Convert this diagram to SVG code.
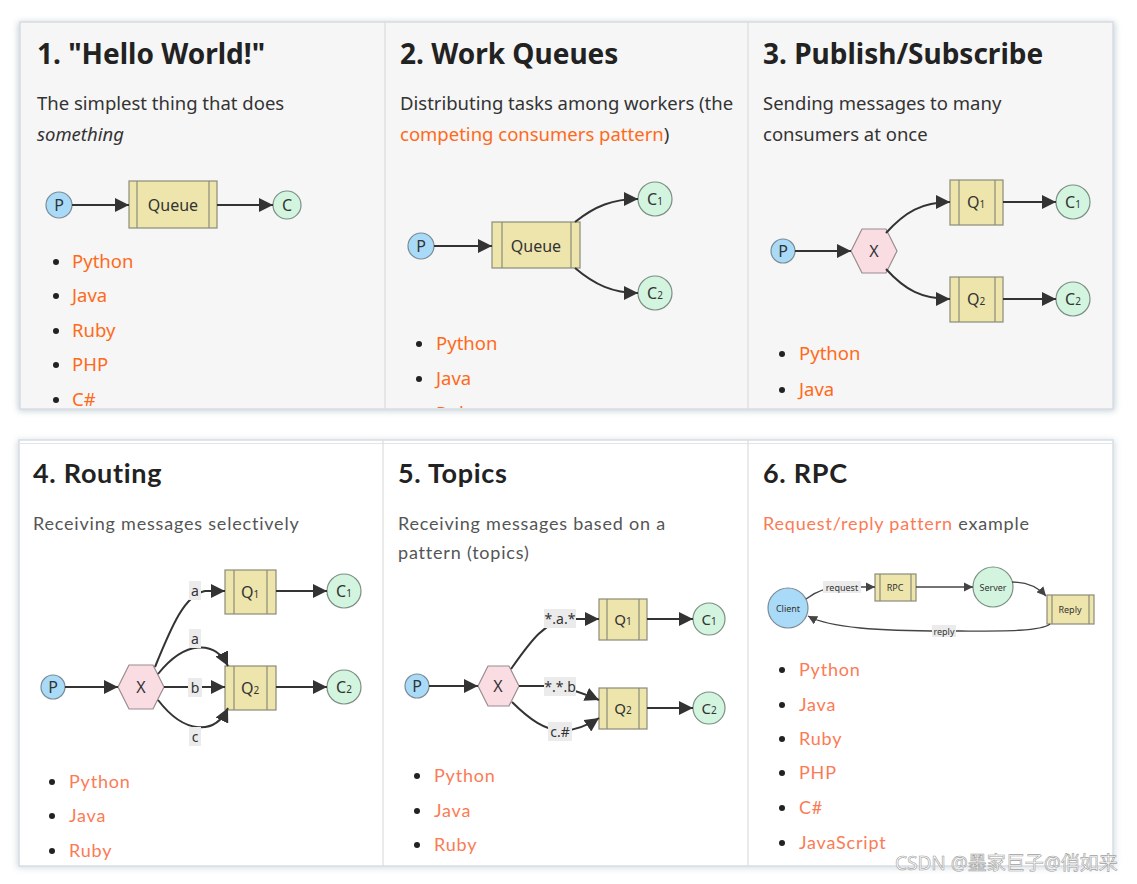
<svg xmlns="http://www.w3.org/2000/svg" width="1137" height="884" viewBox="0 0 1137 884">
<style>
.bg{fill:#ffffff}
.top{fill:#f6f6f6}
.frame{fill:none;stroke:#d8dde2;stroke-width:1.5}
.div{stroke:#dcdcdc;stroke-width:1.2}
.h1{font-family:"Noto Sans","Open Sans",sans-serif;font-weight:bold;font-size:28px;fill:#222}
.p1{font-family:"Noto Sans","Open Sans",sans-serif;font-size:18.5px;fill:#333}
.lk1{fill:#ff6a1a}
.h2{font-family:"Lato","Noto Sans",sans-serif;font-weight:bold;font-size:27px;fill:#222;letter-spacing:0.7px}
.p2{font-family:"Lato","Noto Sans",sans-serif;font-size:18px;fill:#555;letter-spacing:0.8px}
.lk2{fill:#fb7b55}
.bul{fill:#222}
.q{fill:#ede5ab;stroke:#8b8b7a;stroke-width:1.2}
.ql{stroke:#8b8b7a;stroke-width:1.2}
.cp{fill:#a9dbf8;stroke:#7b8a96;stroke-width:1.2}
.cc{fill:#d3f5e0;stroke:#7b8f83;stroke-width:1.2}
.hx{fill:#fadde3;stroke:#9a8c8f;stroke-width:1.2}
.nt{font-family:"Noto Sans","Open Sans",sans-serif;font-size:16px;fill:#333;text-anchor:middle;dominant-baseline:central}
.ntb{font-family:"Noto Sans","Open Sans",sans-serif;font-size:15px;fill:#333;text-anchor:middle;dominant-baseline:central}
.nts{font-family:"Noto Sans","Open Sans",sans-serif;font-size:9px;fill:#333;text-anchor:middle;dominant-baseline:central}
.e{fill:none;stroke:#333;stroke-width:2;marker-end:url(#ah)}
.e2{fill:none;stroke:#444;stroke-width:1.3;marker-end:url(#ahs)}
.lb{fill:#ebebeb}
.lt{font-family:"Noto Sans","Open Sans",sans-serif;font-size:14px;fill:#333;text-anchor:middle;dominant-baseline:central}
.lts{font-family:"Noto Sans","Open Sans",sans-serif;font-size:9px;fill:#333;text-anchor:middle;dominant-baseline:central}
.wm{font-family:"Noto Sans","Noto Sans CJK SC",sans-serif;font-size:19px;fill:#ffffff;stroke:#a0a0a0;stroke-width:0.6}
</style>
<defs>
<marker id="ah" viewBox="0 0 10 10" refX="10" refY="5" markerWidth="7" markerHeight="7" markerUnits="strokeWidth" orient="auto"><path d="M0,0 L10,5 L0,10 z" fill="#333"/></marker>
<marker id="ahs" viewBox="0 0 10 10" refX="10" refY="5" markerWidth="7" markerHeight="7" markerUnits="strokeWidth" orient="auto"><path d="M0,0 L10,5 L0,10 z" fill="#444"/></marker>
<filter id="sh" x="-5%" y="-5%" width="110%" height="115%"><feGaussianBlur stdDeviation="3"/></filter>
<clipPath id="topclip"><rect x="20" y="22" width="1093" height="386"/></clipPath>
</defs>
<rect class="bg" x="0" y="0" width="1137" height="884"/>
<!-- frames / shadows -->
<rect x="18" y="22" width="1097" height="389" fill="#9fb2bd" opacity="0.6" filter="url(#sh)"/>
<rect class="top" x="20" y="22" width="1093" height="387"/>
<rect class="frame" x="20" y="22" width="1093" height="387"/>
<line class="div" x1="385" y1="22" x2="385" y2="409"/>
<line class="div" x1="748" y1="22" x2="748" y2="409"/>
<rect x="17" y="440" width="1098" height="428" fill="#b9c6ce" opacity="0.6" filter="url(#sh)"/>
<rect x="19" y="440" width="1094" height="426" fill="#ffffff"/>
<rect class="frame" x="19" y="440" width="1094" height="426"/>
<line x1="19" y1="443.5" x2="1113" y2="443.5" stroke="#e2e6ea" stroke-width="1.2"/>
<line class="div" x1="383" y1="440" x2="383" y2="866"/>
<line class="div" x1="748" y1="440" x2="748" y2="866"/>

<g clip-path="url(#topclip)">
<!-- Panel 1 -->
<g id="panel1">
<text class="h1" x="37" y="64">1. "Hello World!"</text>
<text class="p1" x="37" y="110">The simplest thing that does</text>
<text class="p1" x="37" y="141" font-style="italic">something</text>
<g class="p1"><circle class="bul" cx="56" cy="262" r="3"/><text x="72" y="268" class="lk1">Python</text>
<circle class="bul" cx="56" cy="296" r="3"/><text x="72" y="302" class="lk1">Java</text>
<circle class="bul" cx="56" cy="331" r="3"/><text x="72" y="337" class="lk1">Ruby</text>
<circle class="bul" cx="56" cy="365" r="3"/><text x="72" y="371" class="lk1">PHP</text>
<circle class="bul" cx="56" cy="400" r="3"/><text x="72" y="406" class="lk1">C#</text></g>
</g>
<!-- Panel 2 -->
<g id="panel2">
<text class="h1" x="400" y="64">2. Work Queues</text>
<text class="p1" x="400" y="110">Distributing tasks among workers (the</text>
<text class="p1" x="400" y="141"><tspan class="lk1">competing consumers pattern</tspan>)</text>
<g class="p1"><circle class="bul" cx="419" cy="344" r="3"/><text x="436" y="350" class="lk1">Python</text>
<circle class="bul" cx="419" cy="379" r="3"/><text x="436" y="385" class="lk1">Java</text>
<circle class="bul" cx="419" cy="414" r="3"/><text x="436" y="420" class="lk1">Ruby</text></g>
</g>
<!-- Panel 3 -->
<g id="panel3">
<text class="h1" x="763" y="64">3. Publish/Subscribe</text>
<text class="p1" x="763" y="110">Sending messages to many</text>
<text class="p1" x="763" y="141">consumers at once</text>
<g class="p1"><circle class="bul" cx="782" cy="354" r="3"/><text x="799" y="360" class="lk1">Python</text>
<circle class="bul" cx="782" cy="390" r="3"/><text x="799" y="396" class="lk1">Java</text></g>
</g>
</g>

<g id="p1-P"><circle class="cp" cx="59" cy="205" r="13"/><text class="nt" x="59" y="205">P</text></g>
<g id="p1-Queue"><rect class="q" x="129" y="181" width="88" height="47"/><line class="ql" x1="137" y1="181" x2="137" y2="228"/><line class="ql" x1="209" y1="181" x2="209" y2="228"/><text class="nt" x="173" y="205">Queue</text></g>
<g id="p1-C"><circle class="cc" cx="287" cy="205" r="14"/><text class="nt" x="287" y="205">C</text></g>

<g id="p2-P"><circle class="cp" cx="421" cy="246" r="13"/><text class="nt" x="421" y="246">P</text></g>
<g id="p2-Queue"><rect class="q" x="492" y="222" width="88" height="46"/><line class="ql" x1="502" y1="222" x2="502" y2="268"/><line class="ql" x1="571" y1="222" x2="571" y2="268"/><text class="nt" x="536" y="246">Queue</text></g>
<g id="p2-C1"><circle class="cc" cx="655" cy="199" r="17"/><text class="nt" x="655" y="199">C<tspan font-size="10" dy="2">1</tspan></text></g>
<g id="p2-C2"><circle class="cc" cx="655" cy="293" r="17"/><text class="nt" x="655" y="293">C<tspan font-size="10" dy="2">2</tspan></text></g>

<g id="p3-P"><circle class="cp" cx="783" cy="251" r="12"/><text class="nt" x="783" y="251">P</text></g>
<g id="p3-X"><polygon class="hx" points="851,251 862,229 886,229 897,251 886,273 862,273"/><text class="nt" x="874" y="251">X</text></g>
<g id="p3-Q1"><rect class="q" x="950" y="180" width="53" height="45"/><line class="ql" x1="959" y1="180" x2="959" y2="225"/><line class="ql" x1="995" y1="180" x2="995" y2="225"/><text class="nt" x="976" y="202">Q<tspan font-size="10" dy="2">1</tspan></text></g>
<g id="p3-Q2"><rect class="q" x="950" y="277" width="53" height="45"/><line class="ql" x1="959" y1="277" x2="959" y2="322"/><line class="ql" x1="995" y1="277" x2="995" y2="322"/><text class="nt" x="976" y="299">Q<tspan font-size="10" dy="2">2</tspan></text></g>
<g id="p3-C1"><circle class="cc" cx="1073" cy="202" r="17"/><text class="nt" x="1073" y="202">C<tspan font-size="10" dy="2">1</tspan></text></g>
<g id="p3-C2"><circle class="cc" cx="1073" cy="299" r="17"/><text class="nt" x="1073" y="299">C<tspan font-size="10" dy="2">2</tspan></text></g>

<!-- Panel 4 -->
<g id="panel4">
<text class="h2" x="33" y="483">4. Routing</text>
<text class="p2" x="33" y="530">Receiving messages selectively</text>
<g class="p2"><circle class="bul" cx="52" cy="782" r="3"/><text x="69" y="788" class="lk2">Python</text>
<circle class="bul" cx="52" cy="816" r="3"/><text x="69" y="822" class="lk2">Java</text>
<circle class="bul" cx="52" cy="851" r="3"/><text x="69" y="857" class="lk2">Ruby</text></g>
</g>
<g id="p4-P"><circle class="cp" cx="53" cy="687" r="12"/><text class="nt" x="53" y="687">P</text></g>
<g id="p4-X"><polygon class="hx" points="118,687 129,665 153,665 164,687 153,709 129,709"/><text class="nt" x="141" y="687">X</text></g>
<g id="p4-Q1"><rect class="q" x="225" y="570" width="51" height="44"/><line class="ql" x1="234" y1="570" x2="234" y2="614"/><line class="ql" x1="267" y1="570" x2="267" y2="614"/><text class="nt" x="250" y="592">Q<tspan font-size="10" dy="2">1</tspan></text></g>
<g id="p4-Q2"><rect class="q" x="225" y="666" width="51" height="44"/><line class="ql" x1="234" y1="666" x2="234" y2="710"/><line class="ql" x1="267" y1="666" x2="267" y2="710"/><text class="nt" x="250" y="688">Q<tspan font-size="10" dy="2">2</tspan></text></g>
<g id="p4-C1"><circle class="cc" cx="344" cy="591" r="17"/><text class="nt" x="344" y="591">C<tspan font-size="10" dy="2">1</tspan></text></g>
<g id="p4-C2"><circle class="cc" cx="344" cy="687" r="17"/><text class="nt" x="344" y="687">C<tspan font-size="10" dy="2">2</tspan></text></g>

<!-- Panel 5 -->
<g id="panel5">
<text class="h2" x="398" y="483">5. Topics</text>
<text class="p2" x="398" y="530">Receiving messages based on a</text>
<text class="p2" x="398" y="559">pattern (topics)</text>
<g class="p2"><circle class="bul" cx="417" cy="776" r="3"/><text x="434" y="782" class="lk2">Python</text>
<circle class="bul" cx="417" cy="811" r="3"/><text x="434" y="817" class="lk2">Java</text>
<circle class="bul" cx="417" cy="845" r="3"/><text x="434" y="851" class="lk2">Ruby</text></g>
</g>
<g id="p5-P"><circle class="cp" cx="417" cy="686" r="12"/><text class="nt" x="417" y="686">P</text></g>
<g id="p5-X"><polygon class="hx" points="478,686 488,666 509,666 519,686 509,706 488,706"/><text class="nt" x="498" y="686">X</text></g>
<g id="p5-Q1"><rect class="q" x="599" y="599" width="48" height="41"/><line class="ql" x1="607" y1="599" x2="607" y2="640"/><line class="ql" x1="639" y1="599" x2="639" y2="640"/><text class="ntb" x="623" y="619">Q<tspan font-size="10" dy="2">1</tspan></text></g>
<g id="p5-Q2"><rect class="q" x="599" y="688" width="48" height="41"/><line class="ql" x1="607" y1="688" x2="607" y2="729"/><line class="ql" x1="639" y1="688" x2="639" y2="729"/><text class="ntb" x="623" y="708">Q<tspan font-size="10" dy="2">2</tspan></text></g>
<g id="p5-C1"><circle class="cc" cx="709" cy="619" r="16"/><text class="ntb" x="709" y="619">C<tspan font-size="10" dy="2">1</tspan></text></g>
<g id="p5-C2"><circle class="cc" cx="709" cy="708" r="16"/><text class="ntb" x="709" y="708">C<tspan font-size="10" dy="2">2</tspan></text></g>

<!-- Panel 6 -->
<g id="panel6">
<text class="h2" x="763" y="483">6. RPC</text>
<text class="p2" x="763" y="530"><tspan class="lk2">Request/reply pattern</tspan> example</text>
<g class="p2"><circle class="bul" cx="782" cy="670" r="3"/><text x="799" y="676" class="lk2">Python</text>
<circle class="bul" cx="782" cy="705" r="3"/><text x="799" y="711" class="lk2">Java</text>
<circle class="bul" cx="782" cy="739" r="3"/><text x="799" y="745" class="lk2">Ruby</text>
<circle class="bul" cx="782" cy="773" r="3"/><text x="799" y="779" class="lk2">PHP</text>
<circle class="bul" cx="782" cy="808" r="3"/><text x="799" y="814" class="lk2">C#</text>
<circle class="bul" cx="782" cy="843" r="3"/><text x="799" y="849" class="lk2">JavaScript</text></g>
</g>
<g id="p6-Client"><circle class="cp" cx="788" cy="608" r="20"/><text class="nts" x="788" y="608">Client</text></g>
<g id="p6-RPC"><rect class="q" x="875" y="574" width="41" height="27"/><line class="ql" x1="880" y1="574" x2="880" y2="601"/><line class="ql" x1="911" y1="574" x2="911" y2="601"/><text class="nts" x="895" y="587">RPC</text></g>
<g id="p6-Server"><circle class="cc" cx="993" cy="587" r="20"/><text class="nts" x="993" y="587">Server</text></g>
<g id="p6-Reply"><rect class="q" x="1047" y="595" width="47" height="29"/><line class="ql" x1="1052" y1="595" x2="1052" y2="624"/><line class="ql" x1="1089" y1="595" x2="1089" y2="624"/><text class="nts" x="1070" y="609">Reply</text></g>

<!-- connectors -->
<g id="connectors">
<path class="e" d="M72,205 L129,205"/>
<path class="e" d="M217,205 L273,205"/>
<path class="e" d="M434,246 L492,246"/>
<path class="e" d="M575,222 C595,206 613,199 638,199"/>
<path class="e" d="M575,268 C595,285 613,293 638,293"/>
<path class="e" d="M795,251 L851,251"/>
<path class="e" d="M886,233 C905,212 922,202 950,202"/>
<path class="e" d="M886,269 C905,290 922,299 950,299"/>
<path class="e" d="M1003,202 L1056,202"/>
<path class="e" d="M1003,299 L1056,299"/>
<path class="e" d="M65,687 L118,687"/>
<path class="e" d="M155,667 C172,625 185,595 205,591 L225,591"/>
<path class="e" d="M158,674 C185,640 215,640 228,666"/>
<path class="e" d="M164,687 L225,687"/>
<path class="e" d="M158,700 C185,735 215,735 228,708"/>
<path class="e" d="M276,591 L327,591"/>
<path class="e" d="M276,687 L327,687"/>
<g class="lb"><rect x="189" y="581" width="12" height="19"/><rect x="189" y="629" width="12" height="19"/><rect x="188" y="678" width="14" height="19"/><rect x="189" y="727" width="12" height="19"/></g>
<g class="lt"><text x="195" y="590">a</text><text x="195" y="638">a</text><text x="195" y="687">b</text><text x="195" y="736">c</text></g>
<path class="e" d="M429,686 L478,686"/>
<path class="e" d="M511,669 C530,642 545,620 570,619 L599,619"/>
<path class="e" d="M519,686 L555,686 C575,690 590,696 599,700"/>
<path class="e" d="M512,702 C530,720 545,730 562,731 C578,730 590,724 599,718"/>
<path class="e" d="M647,619 L693,619"/>
<path class="e" d="M647,708 L693,708"/>
<g class="lb"><rect x="544" y="609" width="32" height="19"/><rect x="544" y="677" width="32" height="19"/><rect x="548" y="722" width="24" height="19"/></g>
<g class="lt"><text x="560" y="618">*.a.*</text><text x="560" y="686">*.*.b</text><text x="560" y="731">c.#</text></g>
<path class="e2" d="M806,599 C815,592 825,587 842,587 L875,587"/>
<path class="e2" d="M916,587 L973,587"/>
<path class="e2" d="M1012,582 C1028,582 1038,587 1046,596"/>
<path class="e2" d="M1050,624 C1040,632 1000,631 944,631 C880,631 830,628 808,616"/>
<rect class="lb" x="823" y="581" width="38" height="12"/>
<text class="lts" x="842" y="587">request</text>
<rect class="lb" x="932" y="625" width="24" height="12"/>
<text class="lts" x="944" y="631">reply</text>
</g>

<text class="wm" x="895" y="870">CSDN @墨家巨子@俏如来</text>
</svg>
